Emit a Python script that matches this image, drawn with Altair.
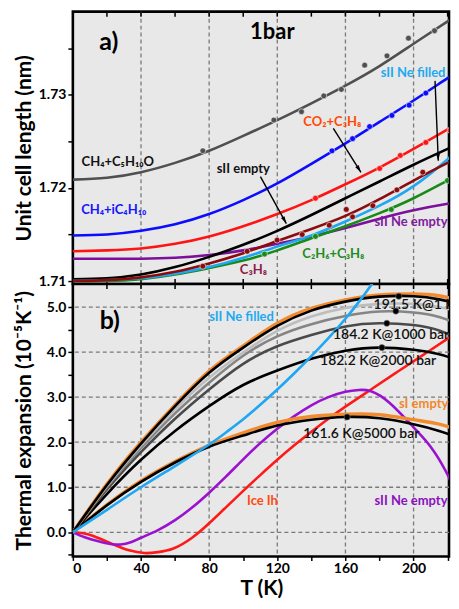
import altair as alt
import pandas as pd
import math

FONT = "Lato"

# ---------------- Panel a: unit cell length (nm) at 1 bar ----------------
TA = [0, 20, 40, 60, 80, 100, 120, 140, 160, 180, 200, 220, 232]
a_ch4_thf = [1.7209, 1.7211, 1.7217, 1.7227, 1.7240, 1.7256, 1.7273, 1.7291, 1.7310, 1.7331, 1.7355, 1.7379, 1.7393]
a_ch4_ic4 = [1.7149, 1.7150, 1.7154, 1.7161, 1.7172, 1.7187, 1.7205, 1.7226, 1.7248, 1.7271, 1.7294, 1.7318, 1.7332]
a_co2_c3h8 = [1.7132, 1.7133, 1.7135, 1.7140, 1.7148, 1.7159, 1.7172, 1.7187, 1.7204, 1.7222, 1.7242, 1.7263, 1.7276]
a_sii_empty = [1.7102, 1.7103, 1.7107, 1.7115, 1.7126, 1.7139, 1.7154, 1.7171, 1.7189, 1.7207, 1.7225, 1.7242, 1.7252]
a_ne_empty = [1.7124, 1.7124, 1.7124, 1.7125, 1.7128, 1.7133, 1.7140, 1.7148, 1.7157, 1.7167, 1.7176, 1.7183, 1.7186]
a_c3h8 = [1.7100, 1.7101, 1.7104, 1.7110, 1.7119, 1.7130, 1.7143, 1.7156, 1.7170, 1.7188, 1.7208, 1.7227, 1.7237]
a_ne_filled = [1.7100, 1.7101, 1.7103, 1.7108, 1.7115, 1.7125, 1.7137, 1.7149, 1.7164, 1.7181, 1.7202, 1.7231, 1.7252]
a_c2h6_c3h8 = [1.7100, 1.7100, 1.7102, 1.7107, 1.7114, 1.7122, 1.7133, 1.7146, 1.7159, 1.7173, 1.7189, 1.7208, 1.7219]

# measured points (panel a)
p_thf_T = [76.3, 118.0, 134.2, 147.3, 157.6, 171.3, 184.4, 197.0, 212.3]
p_thf_v = [1.7240, 1.7273, 1.7282, 1.7299, 1.7306, 1.7332, 1.7342, 1.7361, 1.7369]
p_ic4_T = [152.1, 164.2, 174.2, 187.3, 197.4, 207.2]
p_ic4_v = [1.7240, 1.7253, 1.7266, 1.7278, 1.7289, 1.7302]
p_co2_T = [142.4, 180.1, 192.2, 207.2, 221.4]
p_co2_v = [1.7189, 1.7221, 1.7235, 1.7249, 1.7262]
p_c3h8_T = [76.3, 102.3, 119.9, 134.6, 150.5, 160.5, 164.2, 176.1, 190.2, 205.4]
p_c3h8_v = [1.7116, 1.7132, 1.7144, 1.7150, 1.7160, 1.7177, 1.7169, 1.7181, 1.7198, 1.7217]
p_c2h6_T = [112.5, 142.4, 186.9, 219.9]
p_c2h6_v = [1.7129, 1.7148, 1.7177, 1.7208]

# ---------------- Panel b: thermal expansion (1e-5 /K) ----------------
TB = [0, 20, 40, 60, 80, 100, 120, 140, 160, 180, 200, 215, 232]
b_orange_1bar = [0, 1.07, 2.00, 2.83, 3.58, 4.14, 4.64, 4.97, 5.16, 5.27, 5.29, 5.25, 5.10]
b_black_1bar = [0, 1.05, 1.97, 2.80, 3.54, 4.10, 4.58, 4.92, 5.12, 5.23, 5.24, 5.17, 5.02]
b_lgrey = [0, 1.03, 1.93, 2.73, 3.43, 3.99, 4.47, 4.79, 4.98, 5.07, 5.07, 5.00, 4.85]
b_grey = [0, 1.00, 1.87, 2.64, 3.32, 3.92, 4.35, 4.62, 4.80, 4.90, 4.88, 4.78, 4.55]
b_dgrey_1000 = [0, 0.95, 1.78, 2.52, 3.17, 3.74, 4.13, 4.38, 4.57, 4.64, 4.60, 4.48, 4.22]
b_black_2000 = [0, 0.85, 1.61, 2.25, 2.80, 3.27, 3.59, 3.85, 4.03, 4.10, 4.05, 3.95, 3.75]
b_black_5000 = [0, 0.60, 1.12, 1.55, 1.90, 2.15, 2.37, 2.50, 2.56, 2.53, 2.40, 2.25, 2.03]
b_orange_sI = [0, 0.61, 1.14, 1.57, 1.93, 2.21, 2.44, 2.57, 2.62, 2.61, 2.50, 2.40, 2.20]

TLB = [0, 20, 40, 60, 80, 90, 100, 110, 120, 130, 140, 150, 160, 170, 180]
b_ne_filled = [0, 0.50, 1.00, 1.47, 1.95, 2.22, 2.51, 2.83, 3.17, 3.53, 3.91, 4.31, 4.74, 5.22, 5.75]

TP = [0, 7, 15, 22, 28, 34, 40, 50, 60, 70, 80, 90, 100, 110, 120, 130, 140, 150, 160, 168, 175, 186, 200, 210, 219, 226, 232]
b_ne_empty = [0, -0.11, -0.20, -0.26, -0.27, -0.22, -0.12, 0.05, 0.27, 0.55, 0.88, 1.24, 1.62, 1.98, 2.30, 2.58,
              2.82, 3.00, 3.12, 3.16, 3.13, 2.87, 2.33, 1.90, 1.35, 0.78, 0.25]

TR = [0, 6, 12, 24, 33, 42, 50, 59, 70, 80, 90, 100, 110, 120, 130, 140, 150, 160, 175, 190, 205, 220, 232]
b_ice = [0, -0.02, -0.08, -0.27, -0.40, -0.46, -0.44, -0.36, -0.12, 0.20, 0.56, 0.92, 1.27, 1.61, 1.93, 2.23,
         2.52, 2.79, 3.17, 3.55, 3.92, 4.30, 4.60]

pb_T = [191.3, 189.6, 184.3, 181.4, 161.0]
pb_v = [5.24, 4.91, 4.64, 4.10, 2.56]

# labels
a_lab_text = ["CH₄+C₅H₁₀O", "CH₄+iC₄H₁₀", "sII Ne filled", "CO₂+C₃H₈", "sII empty", "sII Ne empty", "C₂H₆+C₃H₈", "C₃H₈"]
a_lab_T = [26.4, 24.0, 199.7, 152.3, 100.1, 198.5, 152.9, 106.0]
a_lab_v = [1.72284, 1.71768, 1.73232, 1.72705, 1.72200, 1.71632, 1.71295, 1.71116]
a_lab_col = ["#111111", "#1414ff", "#1eaaf0", "#ff4a00", "#111111", "#7f1a9e", "#1e8c1e", "#8e1b4b"]

arrow_T1 = [152.9, 110.1, 212.6]
arrow_v1 = [1.72642, 1.72123, 1.73151]
arrow_T2 = [169.1, 125.3, 214.5]
arrow_v2 = [1.72168, 1.71618, 1.72292]

b_lab_text = ["184.2 K@1000 bar", "182.2 K@2000 bar", "161.6 K@5000 bar"]
b_lab_T = [186.8, 179.2, 169.3]
b_lab_v = [4.38, 3.81, 2.19]
b_lab_left_text = ["191.5 K@1 bar"]
b_lab_left_T = [176.5]
b_lab_left_v = [5.04]
b_col_text = ["sII Ne filled", "Ice Ih", "sII Ne empty"]
b_col_T = [99.0, 111.3, 198.5]
b_col_v = [4.77, 0.685, 0.685]
b_col_col = ["#1eaaf0", "#ff4a10", "#8a10c0"]

grid_T = [40, 80, 120, 160, 200]
grid_b = [0, 1, 2, 3, 4, 5]
tick_T = [20, 40, 60, 80, 100, 120, 140, 160, 180, 200, 220]

# ---------------- layout ----------------
W = 377
HA = 273
HB = 273
XDOM = [0, 220.8]
YA = [1.70968, 1.73895]
YB = [-0.535, 5.51]

xs = alt.Scale(domain=XDOM, nice=False, zero=False)
ysa = alt.Scale(domain=YA, nice=False, zero=False)
ysb = alt.Scale(domain=YB, nice=False, zero=False)

ax_ya = alt.Axis(values=[1.71, 1.715, 1.72, 1.725, 1.73, 1.735],
                 labelExpr="(round(datum.value*1000) % 10 == 0) ? format(datum.value, '.2f') : ''",
                 title="Unit cell length (nm)", minExtent=33, maxExtent=33, titlePadding=5,
                 grid=False, domain=False, tickSize=5)
ax_yb = alt.Axis(values=[-0.5, 0, 0.5, 1, 1.5, 2, 2.5, 3, 3.5, 4, 4.5, 5],
                 labelExpr="(datum.value % 1 === 0) ? datum.label : ''",
                 title="Thermal expansion (10⁻⁵K⁻¹)", minExtent=33, maxExtent=33, titlePadding=5,
                 grid=False, domain=False, tickSize=5)
ax_xb = alt.Axis(values=[0, 20, 40, 60, 80, 100, 120, 140, 160, 180, 200, 220],
                 labelExpr="(datum.value % 40 === 0) ? datum.label : ''",
                 title="T (K)", titleX=189, titleFontSize=21, titlePadding=2, labelPadding=1,
                 grid=False, domain=False, tickSize=4)


def XA():
    return alt.X("T:Q", scale=xs, axis=None)


def XB():
    return alt.X("T:Q", scale=xs, axis=ax_xb)


def YAe():
    return alt.Y("v:Q", scale=ysa, axis=ax_ya)


def YBe():
    return alt.Y("v:Q", scale=ysb, axis=ax_yb)


def line(T, V, color, panel, width=2.6):
    df = pd.DataFrame({"T": T, "v": V})
    x = XA() if panel == "a" else XB()
    y = YAe() if panel == "a" else YBe()
    return alt.Chart(df).mark_line(color=color, strokeWidth=width, interpolate="natural",
                                   clip=True).encode(x=x, y=y)


def pts(T, V, color, panel, size=34):
    df = pd.DataFrame({"T": T, "v": V})
    x = XA() if panel == "a" else XB()
    y = YAe() if panel == "a" else YBe()
    return alt.Chart(df).mark_point(filled=True, size=size, color=color, opacity=1,
                                    stroke="#f0f0f0", strokeWidth=0.6, clip=True).encode(x=x, y=y)


def txt(text, T, V, color, panel, size=13, align="center", weight="bold"):
    df = pd.DataFrame({"T": T, "v": V, "t": text})
    x = XA() if panel == "a" else XB()
    y = YAe() if panel == "a" else YBe()
    return alt.Chart(df).mark_text(font=FONT, fontSize=size, fontWeight=weight, color=color,
                                   align=align, baseline="middle", clip=True).encode(x=x, y=y, text="t:N")


# ---------- panel a ----------
grid_a = alt.Chart(pd.DataFrame({"T": grid_T})).mark_rule(
    color="#7a7a7a", strokeDash=[4, 3], strokeWidth=1.3).encode(x=XA())
ticks_a_top = alt.Chart(pd.DataFrame({"T": tick_T})).mark_rule(color="black", strokeWidth=1.5).encode(
    x=XA(), y=alt.value(0), y2=alt.value(5))
ticks_a_bot = alt.Chart(pd.DataFrame({"T": tick_T})).mark_rule(color="black", strokeWidth=1.5).encode(
    x=XA(), y=alt.value(HA - 5), y2=alt.value(HA))

yax_a = alt.Chart(pd.DataFrame({"T": [0], "v": [1.72]})).mark_point(opacity=0).encode(x=XA(), y=YAe())

lines_a = [
    line(TA, a_ch4_thf, "#505050", "a"),
    line(TA, a_ch4_ic4, "#0c0cff", "a"),
    line(TA, a_co2_c3h8, "#ff1414", "a"),
    line(TA, a_ne_empty, "#7d0f9a", "a"),
    line(TA, a_sii_empty, "#000000", "a"),
    line(TA, a_c2h6_c3h8, "#178a17", "a"),
    line(TA, a_ne_filled, "#1ea7f2", "a"),
    line(TA, a_c3h8, "#8b0c0c", "a"),
]
pts_a = [
    pts(p_thf_T, p_thf_v, "#505050", "a"),
    pts(p_ic4_T, p_ic4_v, "#0c0cff", "a"),
    pts(p_co2_T, p_co2_v, "#ff1414", "a"),
    pts(p_c3h8_T, p_c3h8_v, "#8b0c0c", "a"),
    pts(p_c2h6_T, p_c2h6_v, "#178a17", "a"),
]

# arrows
sx = W / (XDOM[1] - XDOM[0])
sya = HA / (YA[1] - YA[0])
ang = []
for t1, v1, t2, v2 in zip(arrow_T1, arrow_v1, arrow_T2, arrow_v2):
    dx = (t2 - t1) * sx
    dy = -(v2 - v1) * sya
    ang.append(math.degrees(math.atan2(dx, -dy)) % 360)
arr_df = pd.DataFrame({"T": arrow_T1, "v": arrow_v1, "T2": arrow_T2, "v2": arrow_v2})
arrow_lines = alt.Chart(arr_df).mark_rule(color="black", strokeWidth=1.4).encode(
    x=XA(), y=YAe(), x2="T2:Q", y2="v2:Q")
head_df = pd.DataFrame({"T": arrow_T2, "v": arrow_v2, "ang": ang})
arrow_heads = alt.Chart(head_df).mark_point(
    shape="M0,0L-0.6,2.2L0.6,2.2Z", filled=True, color="black", size=45, opacity=1).encode(
    x=XA(), y=YAe(), angle=alt.Angle("ang:Q", scale=None))

texts_a = [txt([a_lab_text[i]], [a_lab_T[i]], [a_lab_v[i]], a_lab_col[i], "a", size=13)
           for i in range(len(a_lab_text))]
texts_a.append(txt(["a)"], [21.1], [1.73568], "black", "a", size=25))
texts_a.append(txt(["1bar"], [117.1], [1.73674], "black", "a", size=22))

panel_a = alt.layer(yax_a, grid_a, ticks_a_top, ticks_a_bot, *lines_a, arrow_lines, arrow_heads,
                    *texts_a, *pts_a).properties(width=W, height=HA)

# ---------- panel b ----------
grid_bx = alt.Chart(pd.DataFrame({"T": grid_T})).mark_rule(
    color="#7a7a7a", strokeDash=[4, 3], strokeWidth=1.3).encode(x=XB())
grid_by = alt.Chart(pd.DataFrame({"v": grid_b})).mark_rule(
    color="#7a7a7a", strokeDash=[4, 3], strokeWidth=1.3).encode(y=YBe())
ticks_b_top = alt.Chart(pd.DataFrame({"T": tick_T})).mark_rule(color="black", strokeWidth=1.5).encode(
    x=XB(), y=alt.value(0), y2=alt.value(5))
yax_b = alt.Chart(pd.DataFrame({"T": [0], "v": [0]})).mark_point(opacity=0).encode(x=XB(), y=YBe())

lines_b = [
    line(TR, b_ice, "#ff1a1a", "b"),
    line(TP, b_ne_empty, "#9a12d0", "b"),
    line(TB, b_orange_sI, "#f28a2e", "b", width=3.4),
    line(TB, b_black_5000, "#000000", "b"),
    line(TB, b_black_2000, "#000000", "b"),
    line(TB, b_dgrey_1000, "#4a4a4a", "b"),
    line(TB, b_grey, "#858585", "b"),
    line(TB, b_lgrey, "#bdbdbd", "b"),
    line(TB, b_orange_1bar, "#f28a2e", "b", width=3.4),
    line(TB, b_black_1bar, "#000000", "b"),
    line(TLB, b_ne_filled, "#1ea7f2", "b"),
]
texts_b = [txt(b_lab_text, b_lab_T, b_lab_v, "#111111", "b", size=14, weight=600),
           txt(b_lab_left_text, b_lab_left_T, b_lab_left_v, "#111111", "b", size=14, align="left", weight=600),
           txt(["sI empty"], [191.5], [2.84], "#f0882a", "b", size=13, align="left"),
           txt(["b)"], [21.7], [4.69], "black", "b", size=25)]
texts_b += [txt([b_col_text[i]], [b_col_T[i]], [b_col_v[i]], b_col_col[i], "b", size=13)
            for i in range(len(b_col_text))]
pts_b = alt.Chart(pd.DataFrame({"T": pb_T, "v": pb_v})).mark_point(
    filled=True, size=38, color="#000000", opacity=1, stroke="#777777", strokeWidth=0.6,
    clip=True).encode(x=XB(), y=YBe())

panel_b = alt.layer(yax_b, grid_bx, grid_by, ticks_b_top, *lines_b, *texts_b, pts_b).properties(
    width=W, height=HB)

chart = alt.vconcat(panel_a, panel_b, spacing=0, bounds="flush").properties(
    padding={"left": 4, "top": 0, "right": 0, "bottom": 0}
).configure_view(
    stroke="black", strokeWidth=2.6, fill="#e8e8e8"
).configure_axis(
    labelFont=FONT, labelFontWeight="bold", labelFontSize=14, labelColor="black",
    tickColor="black", tickWidth=1.5, titleFont=FONT, titleFontWeight="bold",
    titleFontSize=21, titleColor="black"
)

chart.save("out.html", embed_options={"renderer": "svg", "actions": False})
